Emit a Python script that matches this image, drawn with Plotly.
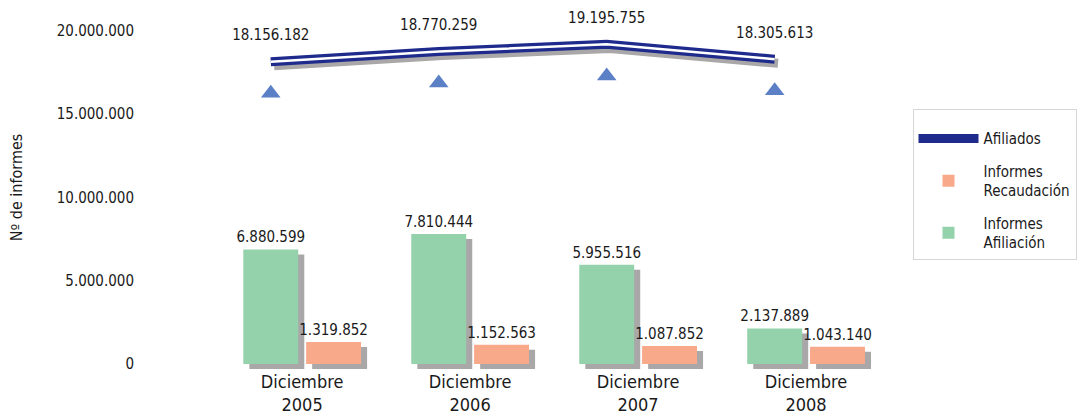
import plotly.graph_objects as go

categories = ["Diciembre<br>2005", "Diciembre<br>2006", "Diciembre<br>2007", "Diciembre<br>2008"]
afiliados = [18156182, 18770259, 19195755, 18305613]
inf_recaudacion = [1319852, 1152563, 1087852, 1043140]
inf_afiliacion = [6880599, 7810444, 5955516, 2137889]
y_ticks = [0, 5000000, 10000000, 15000000, 20000000]

FONT = "DejaVu Sans Condensed, Liberation Sans Narrow, Arial Narrow, sans-serif"
TXT = "#1a1a1a"
GREEN = "#94d2ab"
ORANGE = "#f8a98a"
NAVY = "#1f2b8c"
TRI = "#5b80c6"
SHADOW = "#a9a7a7"

idx = list(range(len(categories)))
BW = 0.327          # bar width (axis units)
G_OFF = -0.35       # green bar offset
O_OFF = 0.024       # orange bar offset
SH_DX = 0.036       # shadow shift right
SH_DY = 300000      # shadow shift down
LINE_DX = G_OFF + BW / 2
TRI_DROP = 1900000

xl = [i + LINE_DX for i in idx]

fig = go.Figure()

# bar shadows
for vals, off, grp in ((inf_afiliacion, G_OFF, "afi"), (inf_recaudacion, O_OFF, "rec")):
    fig.add_trace(go.Bar(x=idx, y=vals, base=[-SH_DY] * len(vals), offset=off + SH_DX, width=BW,
                         marker=dict(color=SHADOW, line=dict(width=0)), showlegend=False,
                         legendgroup=grp, hoverinfo="skip"))

fig.add_trace(go.Bar(x=idx, y=inf_afiliacion, offset=G_OFF, width=BW, name="Informes<br>Afiliación",
                     marker=dict(color=GREEN, line=dict(width=0)), legendrank=3, legendgroup="afi",
                     texttemplate="%{y:,d}", textposition="outside", constraintext="none",
                     textfont=dict(family=FONT, size=15, color=TXT), cliponaxis=False))
fig.add_trace(go.Bar(x=idx, y=inf_recaudacion, offset=O_OFF, width=BW, name="Informes<br>Recaudación",
                     marker=dict(color=ORANGE, line=dict(width=0)), legendrank=2, legendgroup="rec",
                     texttemplate="%{y:,d}", textposition="outside", constraintext="none",
                     textfont=dict(family=FONT, size=15, color=TXT), cliponaxis=False))

# line shadow
fig.add_trace(go.Scatter(x=[v + 0.02 for v in xl], y=[a - 250000 for a in afiliados], mode="lines",
                         line=dict(color=SHADOW, width=9), showlegend=False, legendgroup="lin",
                         hoverinfo="skip"))
# double line
fig.add_trace(go.Scatter(x=xl, y=afiliados, mode="lines", name="Afiliados", legendgroup="lin",
                         line=dict(color=NAVY, width=9), legendrank=1))
fig.add_trace(go.Scatter(x=xl, y=afiliados, mode="lines", line=dict(color="white", width=2.5),
                         showlegend=False, legendgroup="lin", hoverinfo="skip"))
# labels
fig.add_trace(go.Scatter(x=xl, y=afiliados, mode="markers+text",
                         marker=dict(size=27, color="rgba(0,0,0,0)"),
                         texttemplate="%{y:,d}", textposition="top center",
                         textfont=dict(family=FONT, size=15, color=TXT), legendgroup="lin",
                         showlegend=False, hoverinfo="skip", cliponaxis=False))
# triangles
fig.add_trace(go.Scatter(x=xl, y=[a - TRI_DROP for a in afiliados], mode="markers",
                         marker=dict(symbol="triangle-up", size=17, color=TRI), legendgroup="lin",
                         showlegend=False, hoverinfo="skip"))

fig.update_layout(
    width=1083, height=416,
    margin=dict(l=140, r=193, t=6, b=47),
    paper_bgcolor="white", plot_bgcolor="white",
    barmode="overlay",
    separators=",.",
    font=dict(family=FONT, color=TXT, size=15),
    showlegend=True,
    legend=dict(x=1.03, y=0.715, xanchor="left", yanchor="top",
                bgcolor="white", bordercolor="#d6d6d6", borderwidth=1,
                font=dict(family=FONT, size=15, color=TXT),
                title=dict(text=" ", font=dict(size=9)),
                itemwidth=60, traceorder="grouped", tracegroupgap=10),
    xaxis=dict(range=[-0.965, 3.5], tickvals=idx, ticktext=categories, automargin=False,
               showgrid=False, zeroline=False, showline=False, ticks="",
               tickfont=dict(family=FONT, size=18, color=TXT)),
    yaxis=dict(range=[-300000, 21500000], tickvals=y_ticks, tickformat=",d", automargin=False,
               showgrid=False, zeroline=False, showline=False, ticks="", ticklabelstandoff=5,
               tickfont=dict(family=FONT, size=15, color=TXT),
               title=dict(text="Nº de informes", standoff=30,
                          font=dict(family=FONT, size=16, color=TXT))),
)

fig.write_html("out.html", config={"displayModeBar": False},
               post_script="document.body.style.margin='0';")
